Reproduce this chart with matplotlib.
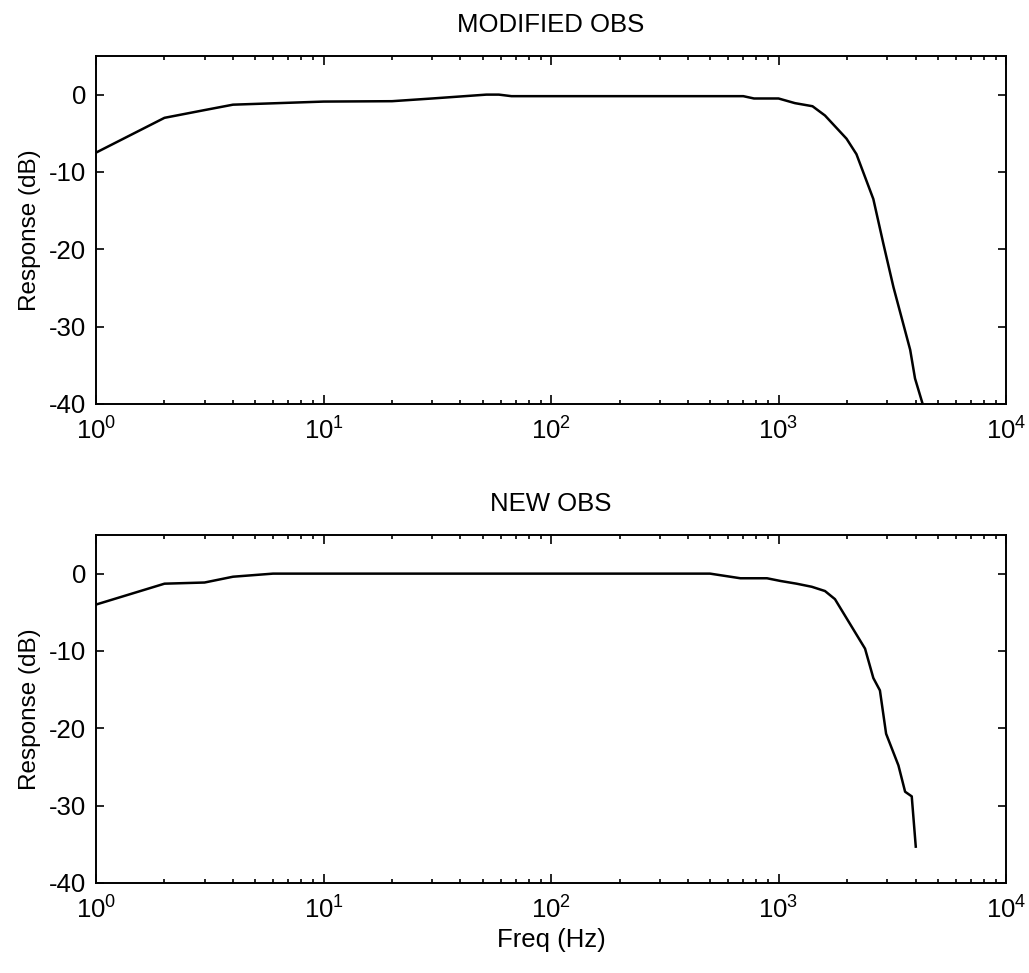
import matplotlib
matplotlib.use('Agg')
import matplotlib.pyplot as plt
import numpy as np

plt.rcParams['font.family'] = ['Liberation Sans', 'DejaVu Sans']
plt.rcParams['mathtext.fontset'] = 'custom'
plt.rcParams['mathtext.rm'] = 'Liberation Sans'
plt.rcParams['mathtext.default'] = 'regular'
plt.rcParams['axes.unicode_minus'] = False

# MODIFIED OBS response
freq_mod = [1, 2, 3, 4, 10, 20, 30, 52, 59, 67, 700, 780, 1000, 1180, 1410,
            1600, 1990, 2200, 2610, 2890, 3200, 3790, 3980, 4300]
resp_mod = [-7.5, -3.0, -2.0, -1.3, -0.9, -0.85, -0.5, 0.0, 0.0, -0.2, -0.2,
            -0.5, -0.5, -1.1, -1.5, -2.7, -5.7, -7.7, -13.5, -19.3, -24.9,
            -33.0, -36.7, -40.0]

# NEW OBS response
freq_new = [1, 2, 3, 4, 6, 500, 680, 890, 1020, 1200, 1400, 1600, 1770, 2400,
            2610, 2790, 2970, 3365, 3600, 3850, 4010]
resp_new = [-4.0, -1.3, -1.15, -0.4, 0.0, 0.0, -0.6, -0.6, -0.95, -1.3, -1.7,
            -2.25, -3.3, -9.7, -13.5, -15.1, -20.7, -24.8, -28.2, -28.8, -35.3]

titles = ['MODIFIED OBS', 'NEW OBS']

fig = plt.figure(figsize=(10.29, 9.73), dpi=100)
ax1 = fig.add_axes([0.0933, 0.5848, 0.8844, 0.3577])
ax2 = fig.add_axes([0.0933, 0.0925, 0.8844, 0.3577])

for ax, f, r, t in [(ax1, freq_mod, resp_mod, titles[0]),
                    (ax2, freq_new, resp_new, titles[1])]:
    ax.semilogx(f, r, color='black', lw=1.8)
    ax.set_xlim(1, 1e4)
    ax.set_ylim(-40, 5)
    ax.set_yticks([-40, -30, -20, -10, 0])
    ax.set_title(t, fontsize=18.5, pad=17)
    ax.set_ylabel('Response (dB)', fontsize=17.5, labelpad=6)
    ax.tick_params(which='both', direction='in', top=True, right=True,
                   labelsize=18.5, width=1.2)
    ax.tick_params(axis='x', which='major', length=6.5, pad=10)
    ax.tick_params(axis='y', which='major', length=6, pad=7)
    ax.tick_params(which='minor', length=3.2)
    for s in ax.spines.values():
        s.set_linewidth(1.4)

ax2.set_xlabel('Freq (Hz)', fontsize=18.5, labelpad=3)

fig.savefig('out.png', dpi=100)
